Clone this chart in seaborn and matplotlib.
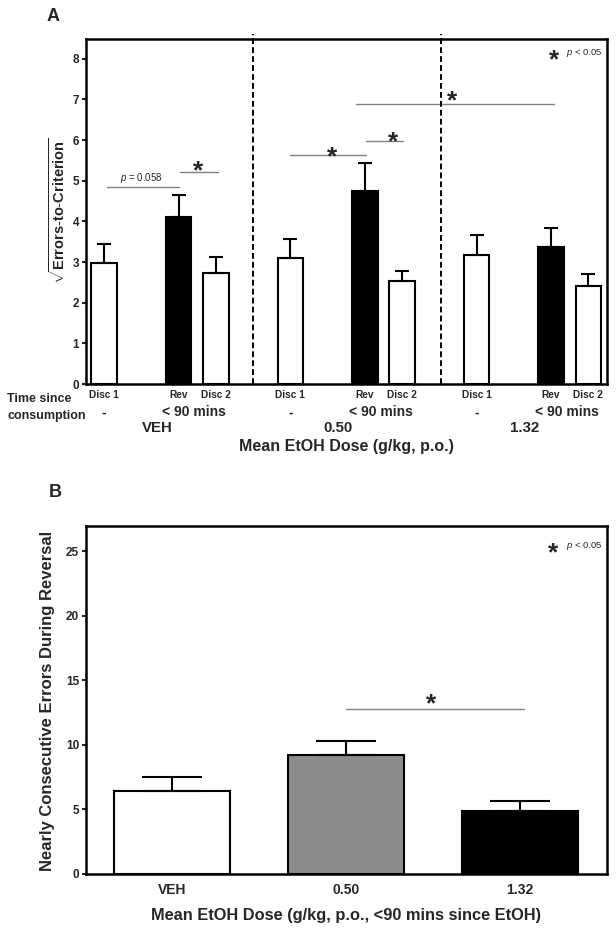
import numpy as np
import pandas as pd
import matplotlib
matplotlib.use("Agg")
import matplotlib.pyplot as plt
import seaborn as sns
from matplotlib.transforms import blended_transform_factory

sns.set_style("ticks")
plt.rcParams["font.family"] = ["Liberation Sans", "DejaVu Sans"]
plt.rcParams["mathtext.fontset"] = "custom"
plt.rcParams["mathtext.rm"] = "Liberation Sans"
plt.rcParams["mathtext.it"] = "Liberation Sans:italic"
plt.rcParams["mathtext.bf"] = "Liberation Sans:bold"

# ---------------- data: panel A ----------------
a_dose = ["VEH", "VEH", "VEH", "0.50", "0.50", "0.50", "1.32", "1.32", "1.32"]
a_phase = ["Disc 1", "Rev", "Disc 2"] * 3
a_mean = [2.97, 4.11, 2.73, 3.09, 4.76, 2.53, 3.17, 3.36, 2.40]
a_sem = [0.48, 0.53, 0.40, 0.47, 0.68, 0.25, 0.49, 0.48, 0.30]
a_time = ["-", "< 90 mins"]
a_groups = ["VEH", "0.50", "1.32"]
a_yticks = [0, 1, 2, 3, 4, 5, 6, 7, 8]
a_sig_x1 = [0.07, 2.03, 5.0, 7.03, 6.75]
a_sig_x2 = [2.0, 3.07, 7.03, 8.02, 12.08]
a_sig_y = [4.84, 5.21, 5.64, 5.98, 6.89]
a_star_x = [2.53, 6.11, 7.75, 9.33]
a_star_y = [5.43, 5.79, 6.16, 7.17]

# ---------------- data: panel B ----------------
b_dose = ["VEH", "0.50", "1.32"]
b_mean = [6.44, 9.19, 4.83]
b_sem = [1.09, 1.07, 0.78]
b_yticks = [0, 5, 10, 15, 20, 25]
b_sig_x1, b_sig_x2, b_sig_y = 1.0, 2.02, 12.78
b_star_x, b_star_y = 1.49, 13.8

# layout helpers (pixel -> figure fraction)
W, H = 616, 931
def fx(px): return px / W
def fy(px): return 1 - px / H

fig = plt.figure(figsize=(6.16, 9.31), dpi=100)
fig.patch.set_facecolor("white")

axA = fig.add_axes([fx(85.5), fy(384), fx(607) - fx(85.5), fy(38.5) - fy(384)])
axB = fig.add_axes([fx(85.5), fy(873.7), fx(607) - fx(85.5), fy(525.7) - fy(873.7)])

STAR_FS = 19
def star(ax, x, y, fs=STAR_FS):
    ax.annotate("*", (x, y), xytext=(0, -0.58 * fs), textcoords="offset points",
                ha="center", va="baseline", fontsize=fs, fontweight="bold",
                annotation_clip=False)

# ---------------- panel A ----------------
a_pos = [0, 2, 3, 5, 7, 8, 10, 12, 13]
dfA = pd.DataFrame({"pos": a_pos, "mean": a_mean, "phase": a_phase, "dose": a_dose})
sns.barplot(data=dfA, x="pos", y="mean", hue="phase",
            palette={"Disc 1": "white", "Rev": "black", "Disc 2": "white"},
            native_scale=True, dodge=False, width=0.68, edgecolor="black",
            linewidth=1.5, errorbar=None, legend=False, ax=axA)
axA.errorbar(a_pos, a_mean, yerr=[np.zeros(len(a_mean)), a_sem], fmt="none",
             ecolor="black", elinewidth=1.5, capsize=5.3, capthick=1.5, zorder=3)
axA.set_xlim(-0.5, 13.5)
axA.set_ylim(0, 8.5)
axA.set_yticks(a_yticks)
axA.set_xticks([])
axA.set_xlabel("")
axA.set_ylabel("")
for sep in [4, 9.05]:
    axA.axvline(sep, ymin=0, ymax=1.014, color="black", lw=1.4,
                dashes=(3.0, 1.6), clip_on=False, zorder=4)
for x1, x2, y in zip(a_sig_x1, a_sig_x2, a_sig_y):
    axA.plot([x1, x2], [y, y], color="#808080", lw=1.0, zorder=3)
axA.text((a_sig_x1[0] + a_sig_x2[0]) / 2 - 0.03, 5.0, r"$\mathit{p}$ = 0.058",
         ha="center", va="baseline", fontsize=7)
for x, y in zip(a_star_x, a_star_y):
    star(axA, x, y)
star(axA, 12.08, 8.17)
axA.text(12.39, 8.1, r"$\mathit{p}$ < 0.05", ha="left", va="baseline", fontsize=6.8)

tA = blended_transform_factory(axA.transData, fig.transFigure)
for p, ph in zip(a_pos, a_phase):
    axA.text(p, fy(398), ph, transform=tA, ha="center", va="baseline",
             fontsize=7.3, fontweight="bold")
for g in range(3):
    axA.text(a_pos[3 * g], fy(416.5), a_time[0], transform=tA, ha="center",
             va="baseline", fontsize=10, fontweight="bold")
    axA.text(a_pos[3 * g + 1] + 0.42, fy(416.5), a_time[1], transform=tA,
             ha="center", va="baseline", fontsize=10, fontweight="bold")
    axA.text(a_pos[3 * g] + 1.42 - 0.13 * (g > 0), fy(432.5), a_groups[g], transform=tA,
             ha="center", va="baseline", fontsize=10.8, fontweight="bold")
fig.text(fx(7), fy(402.5), "Time since", ha="left", va="baseline",
         fontsize=9, fontweight="bold")
fig.text(fx(7), fy(418.5), "consumption", ha="left", va="baseline",
         fontsize=9, fontweight="bold")
fig.text(fx(346), fy(450.5), "Mean EtOH Dose (g/kg, p.o.)", ha="center",
         va="baseline", fontsize=11.5, fontweight="bold")
fig.text(fx(58), fy(210.5),
         r"$\sqrt{\mathbf{Errors}\text{-}\mathbf{to}\text{-}\mathbf{Criterion}}$",
         rotation=90, ha="center", va="center", fontsize=10.5)
fig.text(fx(47), fy(21), "A", ha="left", va="baseline", fontsize=13, fontweight="bold")

# ---------------- panel B ----------------
dfB = pd.DataFrame({"dose": b_dose, "mean": b_mean})
sns.barplot(data=dfB, x="dose", y="mean", hue="dose",
            palette=["white", "#8c8c8c", "black"], width=0.667,
            edgecolor="black", linewidth=1.5, errorbar=None, legend=False, ax=axB)
axB.errorbar(range(3), b_mean, yerr=[np.zeros(3), b_sem], fmt="none",
             ecolor="black", elinewidth=1.5, capsize=21.5, capthick=1.5, zorder=3)
axB.set_xlim(-0.5, 2.5)
axB.set_ylim(0, 27)
axB.set_yticks(b_yticks)
axB.set_xlabel("")
axB.set_ylabel("")
axB.plot([b_sig_x1, b_sig_x2], [b_sig_y, b_sig_y], color="#808080", lw=1.0)
star(axB, b_star_x, b_star_y)
star(axB, 2.19, 25.47)
axB.text(2.263, 25.24, r"$\mathit{p}$ < 0.05", ha="left", va="baseline", fontsize=6.8)
fig.text(fx(48), fy(700.5), "Nearly Consecutive Errors During Reversal",
         rotation=90, ha="center", va="center", fontsize=12, fontweight="bold")
fig.text(fx(346), fy(920), "Mean EtOH Dose (g/kg, p.o., <90 mins since EtOH)",
         ha="center", va="baseline", fontsize=11.8, fontweight="bold")
fig.text(fx(49), fy(497), "B", ha="left", va="baseline", fontsize=13, fontweight="bold")

for ax in (axA, axB):
    for s in ax.spines.values():
        s.set_visible(True)
        s.set_linewidth(1.8)
        s.set_color("black")
    ax.tick_params(axis="y", direction="out", length=3, width=1.5, pad=1.5,
                   labelsize=8.5, left=True, right=False)
    for lbl in ax.get_yticklabels():
        lbl.set_fontweight("bold")
axB.tick_params(axis="x", length=0, pad=7, labelsize=10)
for lbl in axB.get_xticklabels():
    lbl.set_fontweight("bold")

fig.savefig("out.png", dpi=100, facecolor="white")
